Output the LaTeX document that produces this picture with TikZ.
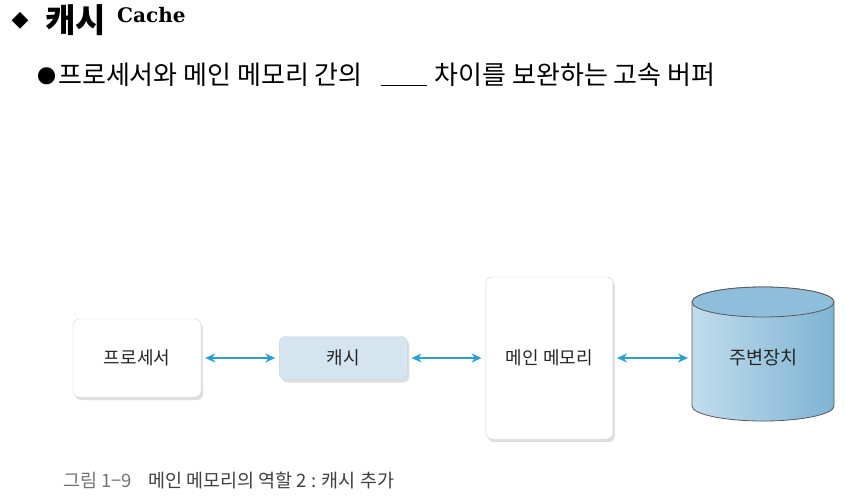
\documentclass[tikz,border=0pt]{standalone}
\usepackage{fontspec}
\setmainfont{Noto Sans CJK KR}
\newfontfamily\symfont{DejaVu Sans}
\newfontfamily\engfont{DejaVu Serif}
\usetikzlibrary{arrows.meta, positioning, shadows}
\definecolor{linkblue}{HTML}{2A9FD0}
\definecolor{cachefill}{HTML}{D5E5F0}
\definecolor{cylleft}{HTML}{C2DCEC}
\definecolor{cylright}{HTML}{7DB4D3}
\definecolor{cyltop}{HTML}{8FBEDB}
\begin{document}
\begin{tikzpicture}[x=1pt, y=-1pt,
        node distance=78pt,
        unit/.style={rectangle, draw=gray!35, fill=white, rounded corners=6pt, minimum width=128pt, text=black!85, font=\fontsize{18pt}{20pt}\selectfont, drop shadow={shadow xshift=2pt, shadow yshift=-3pt, opacity=0.25}},
        link/.style={<->, >={Stealth[length=10pt, width=9pt]}, draw=linkblue, line width=1.4pt, shorten <=4pt, shorten >=4pt},
        line/.style={anchor=base west, inner sep=0pt}
    ]
    \useasboundingbox (0,0) rectangle (846,496);

    % heading
    \node (mark) at (20,21) {\symfont\fontsize{22pt}{24pt}\selectfont ◆};
    \node (title) [line] at (45,32) {\fontsize{33pt}{36pt}\selectfont\bfseries 캐시};
    \node (titleeng) [line] at (117,22) {\engfont\fontsize{20pt}{22pt}\selectfont\bfseries Cache};
    \node (desc) [line] at (37,84) {\fontsize{26pt}{30pt}\selectfont\raisebox{1pt}{\fontsize{19pt}{20pt}\selectfont ●}\hspace{2pt}프로세서와 메인 메모리 간의\hspace{18pt}\rule[-2pt]{46pt}{1.2pt}\hspace{8pt}차이를 보완하는 고속 버퍼};

    % cylinder
    \path [draw=black!65, line width=0.8pt, left color=cylleft, right color=cylright]
        (692,302) -- (692,406) arc[start angle=180, end angle=360, x radius=71pt, y radius=15pt]
        -- (834,302) arc[start angle=0, end angle=180, x radius=71pt, y radius=15pt] -- cycle;
    \draw [draw=black!65, line width=0.8pt, fill=cyltop] (763,302) ellipse[x radius=71pt, y radius=15pt];

    \node (proc) [unit, minimum height=78pt] at (137,358) {프로세서};
    \node (cache) [unit, fill=cachefill, minimum height=43pt, right=of proc] {캐시};
    \node (main) [unit, minimum width=127pt, minimum height=162pt, right=of cache] {메인 메모리};
    \node (periph) [rectangle, minimum width=142pt, minimum height=126pt, text=black!85, font=\fontsize{18.5pt}{20pt}\selectfont, right=79pt of main] {\raisebox{-5pt}{주변장치}};

    \draw [link] (proc) -- (cache);
    \draw [link] (cache) -- (main);
    \draw [link] (main) -- (periph);

    % caption
    \node (caption) [line] at (63,487) {\fontsize{18.5pt}{21pt}\selectfont\textcolor{black!55}{그림 1−9}\hspace{16pt}\textcolor{black!75}{메인 메모리의 역할 2 : 캐시 추가}};
\end{tikzpicture}
\end{document}
